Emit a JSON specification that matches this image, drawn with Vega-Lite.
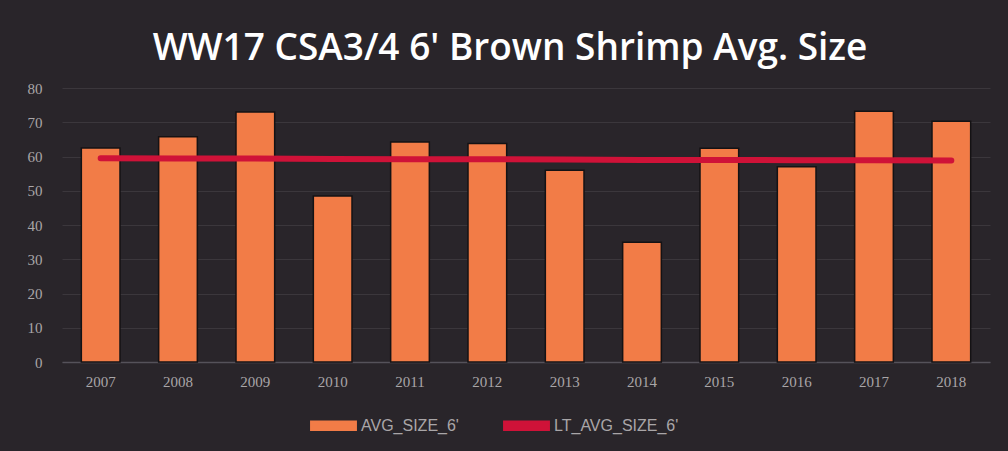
{
  "$schema": "https://vega.github.io/schema/vega-lite/v6.json",
  "autosize": {"type": "none"},
  "width": 928,
  "height": 274,
  "padding": {"left": 62, "top": 88, "right": 18, "bottom": 89},
  "background": "#29252a",
  "title": {
    "text": "WW17 CSA3/4 6' Brown Shrimp Avg. Size",
    "color": "#ffffff",
    "font": "Open Sans",
    "fontSize": 37,
    "fontWeight": 600,
    "anchor": "middle",
    "dx": -16,
    "offset": 13
  },
  "config": {
    "view": {"stroke": null},
    "axis": {"labelColor": "#a9a6a8", "labelFont": "Liberation Serif", "labelFontSize": 15, "ticks": false, "titleColor": "#a9a6a8"}
  },
  "data": {
    "values": [
      {"year": "2007", "avg": 62.5, "lt": 59.5},
      {"year": "2008", "avg": 65.8, "lt": 59.4},
      {"year": "2009", "avg": 73.0, "lt": 59.4},
      {"year": "2010", "avg": 48.5, "lt": 59.3},
      {"year": "2011", "avg": 64.2, "lt": 59.2},
      {"year": "2012", "avg": 63.8, "lt": 59.2},
      {"year": "2013", "avg": 56.0, "lt": 59.1},
      {"year": "2014", "avg": 35.0, "lt": 59.0},
      {"year": "2015", "avg": 62.4, "lt": 59.0},
      {"year": "2016", "avg": 57.0, "lt": 58.9},
      {"year": "2017", "avg": 73.2, "lt": 58.9},
      {"year": "2018", "avg": 70.3, "lt": 58.8}
    ]
  },
  "encoding": {
    "x": {
      "field": "year", "type": "nominal",
      "scale": {"paddingInner": 0.5, "paddingOuter": 0.25},
      "axis": {"title": null, "labelAngle": 0, "labelPadding": 12, "domainColor": "#55525a", "domainWidth": 1.5, "grid": false}
    }
  },
  "layer": [
    {
      "mark": {"type": "bar", "stroke": "#141214", "strokeWidth": 1.5},
      "encoding": {
        "y": {
          "field": "avg", "type": "quantitative",
          "scale": {"domain": [0, 80]},
          "axis": {"title": null, "values": [0,10,20,30,40,50,60,70,80], "labelOverlap": false, "labelPadding": 20, "domain": false, "gridColor": "#3b373c", "gridWidth": 1}
        },
        "color": {
          "datum": "AVG_SIZE_6'",
          "type": "nominal",
          "scale": {"domain": ["AVG_SIZE_6'", "LT_AVG_SIZE_6'"], "range": ["#f27c47", "#cf1238"]},
          "legend": {
            "title": null,
            "orient": "none",
            "legendX": 248,
            "legendY": 314,
            "direction": "horizontal",
            "symbolType": "M-1,-0.22H1V0.22H-1Z",
            "symbolSize": 2200,
            "symbolStrokeWidth": 0,
            "symbolOpacity": 1,
            "labelColor": "#a9a6a8",
            "labelFont": "Liberation Sans",
            "labelFontSize": 16,
            "columnPadding": 44,
            "labelOffset": 4
          }
        }
      }
    },
    {
      "mark": {"type": "line", "strokeWidth": 6, "strokeCap": "round"},
      "encoding": {
        "y": {"field": "lt", "type": "quantitative", "axis": {"title": null, "values": [0,10,20,30,40,50,60,70,80], "labelOverlap": false, "labelPadding": 20, "domain": false, "gridColor": "#3b373c", "gridWidth": 1}},
        "color": {"datum": "LT_AVG_SIZE_6'", "type": "nominal"}
      }
    }
  ]
}
